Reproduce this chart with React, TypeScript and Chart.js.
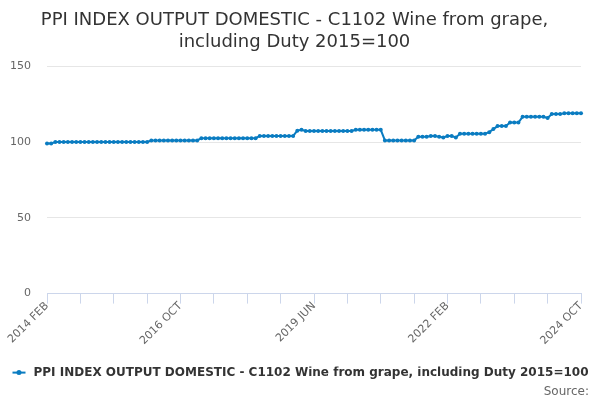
import React, { useEffect, useRef } from 'react';
import { Chart, registerables } from 'chart.js';

Chart.register(...registerables);

const TITLE_LINES = ['PPI INDEX OUTPUT DOMESTIC - C1102 Wine from grape,', 'including Duty 2015=100'];
const SERIES_NAME = 'PPI INDEX OUTPUT DOMESTIC - C1102 Wine from grape, including Duty 2015=100';
const SOURCE_TEXT = 'Source:';

const MONTH_NAMES = ['JAN', 'FEB', 'MAR', 'APR', 'MAY', 'JUN', 'JUL', 'AUG', 'SEP', 'OCT', 'NOV', 'DEC'];
const START_YEAR = 2014;
const START_MONTH_INDEX = 1; // FEB

// Monthly index values, 2014 FEB .. 2024 OCT
const VALUES: number[] = [
  99, 99, 100, 100, 100, 100, 100, 100, 100, 100, 100, 100,
  100, 100, 100, 100, 100, 100, 100, 100, 100, 100, 100, 100,
  100, 101, 101, 101, 101, 101, 101, 101, 101, 101, 101, 101,
  101, 102.5, 102.5, 102.5, 102.5, 102.5, 102.5, 102.5, 102.5, 102.5, 102.5, 102.5,
  102.5, 102.5, 102.5, 104, 104, 104, 104, 104, 104, 104, 104, 104,
  107.5, 108, 107.3, 107.3, 107.3, 107.3, 107.3, 107.3, 107.3, 107.3, 107.3, 107.3,
  107.3, 107.3, 108, 108, 108, 108, 108, 108, 108, 101, 101, 101,
  101, 101, 101, 101, 101, 103.5, 103.5, 103.5, 104, 104, 103.5, 103,
  104, 104, 103, 105.5, 105.5, 105.5, 105.5, 105.5, 105.5, 105.5, 106.5, 108.5,
  110.5, 110.5, 110.5, 112.8, 112.8, 112.8, 116.6, 116.6, 116.6, 116.6, 116.6, 116.6,
  115.8, 118.4, 118.4, 118.4, 119, 119, 119, 119, 119,
];

const LABELS: string[] = VALUES.map((_, i) => {
  const m = START_MONTH_INDEX + i;
  return `${START_YEAR + Math.floor(m / 12)} ${MONTH_NAMES[m % 12]}`;
});

const Y_MIN = 0;
const Y_MAX = 150;
const Y_STEP = 50;
const TICK_EVERY = 8;
const LABEL_EVERY = 32;

const LINE_COLOR = '#0a7cc1';
const FONT = 'DejaVu Sans';

export default function App() {
  const ref = useRef<HTMLCanvasElement | null>(null);

  useEffect(() => {
    if (!ref.current) return;
    const legendTweak = {
      id: 'legendTweak',
      afterLayout(chart: any) {
        const lg = chart.legend;
        if (!lg) return;
        lg.left += 6;
        lg.right += 6;
        lg.top += 4;
        lg.bottom += 4;
      },
      afterDraw(chart: any) {
        const lg = chart.legend;
        if (!lg || !lg.legendHitBoxes || !lg.legendHitBoxes.length) return;
        const hb = lg.legendHitBoxes[0];
        const ctx = chart.ctx;
        const cy = hb.top + hb.height / 2;
        ctx.save();
        ctx.strokeStyle = LINE_COLOR;
        ctx.lineWidth = 2;
        ctx.beginPath();
        ctx.moveTo(hb.left, cy);
        ctx.lineTo(hb.left + 13, cy);
        ctx.stroke();
        ctx.fillStyle = LINE_COLOR;
        ctx.beginPath();
        ctx.arc(hb.left + 6.5, cy, 2.5, 0, Math.PI * 2);
        ctx.fill();
        ctx.restore();
      },
    };
    const chart = new Chart(ref.current, {
      type: 'line',
      data: {
        labels: LABELS,
        datasets: [
          {
            label: SERIES_NAME,
            data: VALUES,
            borderColor: LINE_COLOR,
            backgroundColor: LINE_COLOR,
            borderWidth: 2,
            pointRadius: 2,
            pointBorderWidth: 0,
            pointBackgroundColor: LINE_COLOR,
            pointStyle: 'circle',
            tension: 0,
          } as any,
        ],
      },
      options: {
        responsive: false,
        animation: false,
        layout: { padding: { left: 0, right: 11, top: 0, bottom: 0 } },
        plugins: {
          title: {
            display: true,
            text: TITLE_LINES,
            color: '#333333',
            font: { family: FONT, size: 18, weight: 'normal' },
            padding: { top: 10, bottom: 13 },
          },
          subtitle: {
            display: true,
            text: SOURCE_TEXT,
            position: 'bottom',
            align: 'end',
            color: '#666666',
            font: { family: FONT, size: 12, weight: 'normal' },
            padding: { top: 0, bottom: 1 },
          },
          legend: {
            display: true,
            position: 'bottom',
            labels: {
              usePointStyle: true,
              pointStyle: 'line',
              pointStyleWidth: 15,
              color: '#333333',
              font: { family: FONT, size: 12, weight: 'bold' },
              padding: 0,
            },
          },
          tooltip: { enabled: false },
        },
        scales: {
          x: {
            type: 'category',
            offset: false,
            grid: {
              display: true,
              drawOnChartArea: false,
              drawTicks: true,
              tickLength: 10,
              tickColor: (ctx: any) => (ctx.index % TICK_EVERY === 0 ? '#ccd6eb' : 'rgba(0,0,0,0)'),
            },
            border: { display: true, color: '#ccd6eb', width: 1 },
            ticks: {
              autoSkip: false,
              minRotation: 45,
              maxRotation: 45,
              color: '#666666',
              font: { family: FONT, size: 11 },
              padding: -4,
              callback: (_v: any, i: number) => (i % LABEL_EVERY === 0 ? LABELS[i] : ''),
            },
            afterFit: (s: any) => {
              s.height = 69;
            },
          },
          y: {
            min: Y_MIN,
            max: Y_MAX,
            grid: { color: '#e6e6e6', drawTicks: false },
            border: { display: false },
            ticks: {
              stepSize: Y_STEP,
              color: '#666666',
              font: { family: FONT, size: 11 },
              padding: 16,
            },
            afterFit: (s: any) => {
              s.width = 47;
            },
          },
          yRight: {
            position: 'right',
            display: true,
            grid: { display: false },
            border: { display: false },
            ticks: { display: false },
            afterFit: (s: any) => {
              s.width = 8;
            },
          },
        },
      },
      plugins: [legendTweak],
    } as any);
    return () => chart.destroy();
  }, []);

  return (
    <div style={{ position: 'absolute', left: 0, top: 0, width: 600, height: 400, background: '#fff' }}>
      <canvas ref={ref} width={600} height={400} />
    </div>
  );
}
